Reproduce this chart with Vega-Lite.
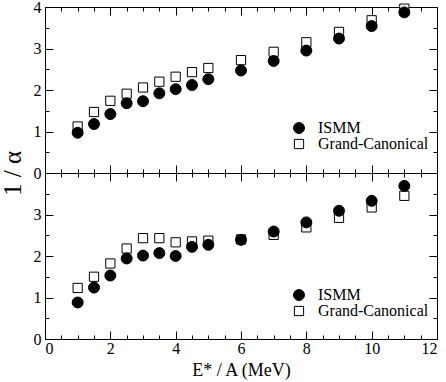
{
  "$schema": "https://vega.github.io/schema/vega-lite/v6.json",
  "autosize": {"type": "none"},
  "padding": {"left": 45, "top": 7, "right": 401, "bottom": 375},
  "background": "white",
  "datasets": {
    "top": [
      {"e": 1, "v": 1.12, "s": "Grand-Canonical"},
      {"e": 1.5, "v": 1.47, "s": "Grand-Canonical"},
      {"e": 2, "v": 1.74, "s": "Grand-Canonical"},
      {"e": 2.5, "v": 1.91, "s": "Grand-Canonical"},
      {"e": 3, "v": 2.06, "s": "Grand-Canonical"},
      {"e": 3.5, "v": 2.2, "s": "Grand-Canonical"},
      {"e": 4, "v": 2.32, "s": "Grand-Canonical"},
      {"e": 4.5, "v": 2.43, "s": "Grand-Canonical"},
      {"e": 5, "v": 2.53, "s": "Grand-Canonical"},
      {"e": 6, "v": 2.72, "s": "Grand-Canonical"},
      {"e": 7, "v": 2.92, "s": "Grand-Canonical"},
      {"e": 8, "v": 3.15, "s": "Grand-Canonical"},
      {"e": 9, "v": 3.4, "s": "Grand-Canonical"},
      {"e": 10, "v": 3.68, "s": "Grand-Canonical"},
      {"e": 11, "v": 3.96, "s": "Grand-Canonical"},
      {"e": 1, "v": 0.97, "s": "ISMM"},
      {"e": 1.5, "v": 1.18, "s": "ISMM"},
      {"e": 2, "v": 1.42, "s": "ISMM"},
      {"e": 2.5, "v": 1.68, "s": "ISMM"},
      {"e": 3, "v": 1.73, "s": "ISMM"},
      {"e": 3.5, "v": 1.92, "s": "ISMM"},
      {"e": 4, "v": 2.02, "s": "ISMM"},
      {"e": 4.5, "v": 2.12, "s": "ISMM"},
      {"e": 5, "v": 2.26, "s": "ISMM"},
      {"e": 6, "v": 2.47, "s": "ISMM"},
      {"e": 7, "v": 2.7, "s": "ISMM"},
      {"e": 8, "v": 2.95, "s": "ISMM"},
      {"e": 9, "v": 3.24, "s": "ISMM"},
      {"e": 10, "v": 3.54, "s": "ISMM"},
      {"e": 11, "v": 3.87, "s": "ISMM"}
    ],
    "bottom": [
      {"e": 1, "v": 1.23, "s": "Grand-Canonical"},
      {"e": 1.5, "v": 1.5, "s": "Grand-Canonical"},
      {"e": 2, "v": 1.82, "s": "Grand-Canonical"},
      {"e": 2.5, "v": 2.18, "s": "Grand-Canonical"},
      {"e": 3, "v": 2.43, "s": "Grand-Canonical"},
      {"e": 3.5, "v": 2.43, "s": "Grand-Canonical"},
      {"e": 4, "v": 2.33, "s": "Grand-Canonical"},
      {"e": 4.5, "v": 2.35, "s": "Grand-Canonical"},
      {"e": 5, "v": 2.37, "s": "Grand-Canonical"},
      {"e": 6, "v": 2.4, "s": "Grand-Canonical"},
      {"e": 7, "v": 2.51, "s": "Grand-Canonical"},
      {"e": 8, "v": 2.69, "s": "Grand-Canonical"},
      {"e": 9, "v": 2.92, "s": "Grand-Canonical"},
      {"e": 10, "v": 3.17, "s": "Grand-Canonical"},
      {"e": 11, "v": 3.45, "s": "Grand-Canonical"},
      {"e": 1, "v": 0.88, "s": "ISMM"},
      {"e": 1.5, "v": 1.24, "s": "ISMM"},
      {"e": 2, "v": 1.53, "s": "ISMM"},
      {"e": 2.5, "v": 1.94, "s": "ISMM"},
      {"e": 3, "v": 2.01, "s": "ISMM"},
      {"e": 3.5, "v": 2.07, "s": "ISMM"},
      {"e": 4, "v": 2.0, "s": "ISMM"},
      {"e": 4.5, "v": 2.22, "s": "ISMM"},
      {"e": 5, "v": 2.27, "s": "ISMM"},
      {"e": 6, "v": 2.39, "s": "ISMM"},
      {"e": 7, "v": 2.59, "s": "ISMM"},
      {"e": 8, "v": 2.81, "s": "ISMM"},
      {"e": 9, "v": 3.09, "s": "ISMM"},
      {"e": 10, "v": 3.33, "s": "ISMM"},
      {"e": 11, "v": 3.69, "s": "ISMM"}
    ]
  },
  "spacing": 0,
  "bounds": "flush",
  "vconcat": [
    {
      "width": 392,
      "height": 166,
      "data": {"name": "top"},
      "layer": [
        {
          "mark": {"type": "point", "filled": true, "opacity": 1, "stroke": "black", "strokeWidth": 1},
          "encoding": {
            "x": {"field": "e", "type": "quantitative", "scale": {"domain": [0, 12], "nice": false, "zero": false}, "axis": null},
            "y": {"field": "v", "type": "quantitative", "scale": {"domain": [0, 4], "nice": false},
              "axis": {"orient": "left", "values": [0, 1, 2, 3, 4], "ticks": false, "labelPadding": 4, "title": "1 / α", "titleX": -33, "titleY": 166, "titleBaseline": "middle", "titleFontSize": 25}},
            "shape": {"field": "s", "type": "nominal", "scale": {"domain": ["ISMM", "Grand-Canonical"], "range": ["circle", "square"]},
              "legend": {"orient": "none", "legendX": 246, "legendY": 113, "title": null, "padding": 0, "labelOffset": 11, "rowPadding": 0,
                "encode": {"symbols": {"update": {"stroke": {"value": "black"}, "strokeWidth": {"value": 1}, "size": {"signal": "datum.value === 'ISMM' ? 120 : 85"}}}}}},
            "fill": {"field": "s", "type": "nominal", "scale": {"domain": ["ISMM", "Grand-Canonical"], "range": ["black", "white"]},
              "legend": {"orient": "none", "legendX": 246, "legendY": 113, "title": null, "padding": 0, "labelOffset": 11, "rowPadding": 0,
                "encode": {"symbols": {"update": {"stroke": {"value": "black"}, "strokeWidth": {"value": 1}, "size": {"signal": "datum.value === 'ISMM' ? 120 : 85"}}}}}},
            "size": {"field": "s", "type": "nominal", "scale": {"domain": ["ISMM", "Grand-Canonical"], "range": [120, 85]},
              "legend": {"orient": "none", "legendX": 246, "legendY": 113, "title": null, "padding": 0, "labelOffset": 11, "rowPadding": 0,
                "encode": {"symbols": {"update": {"stroke": {"value": "black"}, "strokeWidth": {"value": 1}, "size": {"signal": "datum.value === 'ISMM' ? 120 : 85"}}}}}}
          }
        },
        {
          "mark": {"type": "point", "opacity": 0},
          "encoding": {
            "x": {"field": "e", "type": "quantitative", "axis": {"orient": "bottom", "labels": false, "title": null, "values": [0,0.5,1,1.5,2,2.5,3,3.5,4,4.5,5,5.5,6,6.5,7,7.5,8,8.5,9,9.5,10,10.5,11,11.5,12], "tickSize": {"condition": {"test": "datum.value % 2 === 0", "value": -8}, "value": -4}}},
            "y": {"field": "v", "type": "quantitative", "axis": {"orient": "left", "labels": false, "title": null, "values": [0,0.5,1,1.5,2,2.5,3,3.5,4], "tickSize": {"condition": {"test": "datum.value % 1 === 0", "value": -8}, "value": -4}}}
          }
        },
        {
          "mark": {"type": "point", "opacity": 0},
          "encoding": {
            "x": {"field": "e", "type": "quantitative", "axis": {"orient": "top", "labels": false, "title": null, "values": [0,0.5,1,1.5,2,2.5,3,3.5,4,4.5,5,5.5,6,6.5,7,7.5,8,8.5,9,9.5,10,10.5,11,11.5,12], "tickSize": {"condition": {"test": "datum.value % 2 === 0", "value": -8}, "value": -4}}},
            "y": {"field": "v", "type": "quantitative", "axis": {"orient": "right", "labels": false, "title": null, "values": [0,0.5,1,1.5,2,2.5,3,3.5,4], "tickSize": {"condition": {"test": "datum.value % 1 === 0", "value": -8}, "value": -4}}}
          }
        }
      ],
      "resolve": {"axis": {"x": "independent", "y": "independent"}}
    },
    {
      "width": 392,
      "height": 166,
      "data": {"name": "bottom"},
      "layer": [
        {
          "mark": {"type": "point", "filled": true, "opacity": 1, "stroke": "black", "strokeWidth": 1},
          "encoding": {
            "x": {"field": "e", "type": "quantitative", "scale": {"domain": [0, 12], "nice": false, "zero": false},
              "axis": {"orient": "bottom", "values": [0, 2, 4, 6, 8, 10, 12], "ticks": false, "labelPadding": 1, "title": "E* / A  (MeV)", "titleFontSize": 18, "titleBaseline": "alphabetic", "titleY": 36}},
            "y": {"field": "v", "type": "quantitative", "scale": {"domain": [0, 4], "nice": false},
              "axis": {"orient": "left", "values": [0, 1, 2, 3], "ticks": false, "labelPadding": 4, "title": null}},
            "shape": {"field": "s", "type": "nominal", "scale": {"domain": ["ISMM", "Grand-Canonical"], "range": ["circle", "square"]},
              "legend": {"orient": "none", "legendX": 246, "legendY": 114, "title": null, "padding": 0, "labelOffset": 11, "rowPadding": 0,
                "encode": {"symbols": {"update": {"stroke": {"value": "black"}, "strokeWidth": {"value": 1}, "size": {"signal": "datum.value === 'ISMM' ? 120 : 85"}}}}}},
            "fill": {"field": "s", "type": "nominal", "scale": {"domain": ["ISMM", "Grand-Canonical"], "range": ["black", "white"]},
              "legend": {"orient": "none", "legendX": 246, "legendY": 114, "title": null, "padding": 0, "labelOffset": 11, "rowPadding": 0,
                "encode": {"symbols": {"update": {"stroke": {"value": "black"}, "strokeWidth": {"value": 1}, "size": {"signal": "datum.value === 'ISMM' ? 120 : 85"}}}}}},
            "size": {"field": "s", "type": "nominal", "scale": {"domain": ["ISMM", "Grand-Canonical"], "range": [120, 85]},
              "legend": {"orient": "none", "legendX": 246, "legendY": 114, "title": null, "padding": 0, "labelOffset": 11, "rowPadding": 0,
                "encode": {"symbols": {"update": {"stroke": {"value": "black"}, "strokeWidth": {"value": 1}, "size": {"signal": "datum.value === 'ISMM' ? 120 : 85"}}}}}}
          }
        },
        {
          "mark": {"type": "point", "opacity": 0},
          "encoding": {
            "x": {"field": "e", "type": "quantitative", "axis": {"orient": "bottom", "labels": false, "title": null, "values": [0,0.5,1,1.5,2,2.5,3,3.5,4,4.5,5,5.5,6,6.5,7,7.5,8,8.5,9,9.5,10,10.5,11,11.5,12], "tickSize": {"condition": {"test": "datum.value % 2 === 0", "value": -8}, "value": -4}}},
            "y": {"field": "v", "type": "quantitative", "axis": {"orient": "left", "labels": false, "title": null, "values": [0,0.5,1,1.5,2,2.5,3,3.5,4], "tickSize": {"condition": {"test": "datum.value % 1 === 0", "value": -8}, "value": -4}}}
          }
        },
        {
          "mark": {"type": "point", "opacity": 0},
          "encoding": {
            "x": {"field": "e", "type": "quantitative", "axis": {"orient": "top", "labels": false, "title": null, "values": [0,0.5,1,1.5,2,2.5,3,3.5,4,4.5,5,5.5,6,6.5,7,7.5,8,8.5,9,9.5,10,10.5,11,11.5,12], "tickSize": {"condition": {"test": "datum.value % 2 === 0", "value": -8}, "value": -4}}},
            "y": {"field": "v", "type": "quantitative", "axis": {"orient": "right", "labels": false, "title": null, "values": [0,0.5,1,1.5,2,2.5,3,3.5,4], "tickSize": {"condition": {"test": "datum.value % 1 === 0", "value": -8}, "value": -4}}}
          }
        }
      ],
      "resolve": {"axis": {"x": "independent", "y": "independent"}}
    }
  ],
  "resolve": {"scale": {"shape": "independent", "fill": "independent", "size": "independent"}},
  "config": {
    "font": "Liberation Serif, Times New Roman, serif",
    "view": {"stroke": "black", "strokeWidth": 1},
    "axis": {"domain": false, "grid": false, "labelFont": "Liberation Serif, Times New Roman, serif", "labelFontSize": 16, "labelColor": "black", "titleFont": "Liberation Serif, Times New Roman, serif", "titleFontWeight": "normal", "titleColor": "black", "tickColor": "black", "tickWidth": 1},
    "legend": {"labelFont": "Liberation Serif, Times New Roman, serif", "labelFontSize": 16, "labelColor": "black", "symbolStrokeColor": "black", "symbolStrokeWidth": 1, "symbolOpacity": 1}
  }
}
